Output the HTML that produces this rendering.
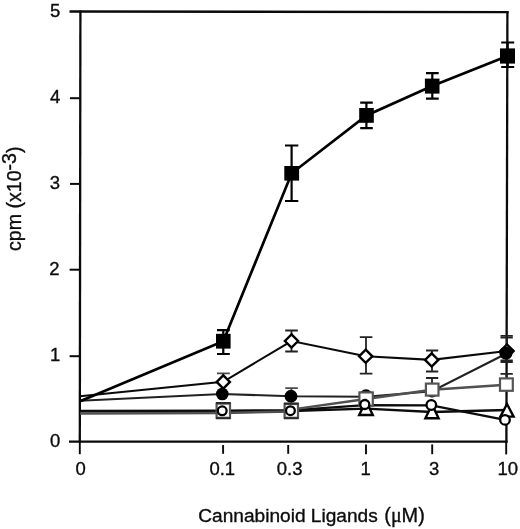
<!DOCTYPE html>
<html lang="en">
<head>
<meta charset="utf-8">
<title>Cannabinoid Ligands dose response</title>
<style>
  html, body { margin: 0; padding: 0; background: #fff; }
  body { width: 520px; height: 529px; overflow: hidden; }
  svg { display: block; }
  text { font-family: "Liberation Sans", sans-serif; font-size: 18.5px; fill: #0c0c0c; stroke: #0c0c0c; stroke-width: 0.35px; }
  .ttl { font-size: 19.4px; }
  .mu { font-family: "Liberation Serif", serif; }
</style>
</head>
<body>
<svg width="520" height="529" viewBox="0 0 520 529">
  <rect x="0" y="0" width="520" height="529" fill="#ffffff"/>

  <!-- axes frame -->
  <g stroke="#0a0a0a" stroke-width="2.3" fill="none" stroke-linecap="butt">
    <line x1="80.4" y1="10.4" x2="79.8" y2="442.8"/>
    <line x1="69.5" y1="11.5" x2="508.5" y2="12.1"/>
    <line x1="507.4" y1="11" x2="506.4" y2="442.8"/>
    <line x1="69" y1="441.7" x2="507.5" y2="441.7"/>
  </g>
  <!-- y ticks -->
  <g stroke="#0a0a0a" stroke-width="2" fill="none">
    <line x1="70" y1="98.2" x2="80" y2="98.2"/>
    <line x1="70" y1="183.9" x2="80" y2="183.9"/>
    <line x1="69.6" y1="269.7" x2="80" y2="269.7"/>
    <line x1="69.6" y1="356.2" x2="80" y2="356.2"/>
  </g>
  <!-- x ticks -->
  <g stroke="#0a0a0a" stroke-width="1.9" fill="none">
    <line x1="79.8" y1="442" x2="79.8" y2="454.2"/>
    <line x1="223.1" y1="445" x2="223.1" y2="453.8"/>
    <line x1="288.2" y1="445" x2="288.2" y2="453.8"/>
    <line x1="366" y1="444.4" x2="366" y2="454.2"/>
    <line x1="432.2" y1="444.4" x2="432.2" y2="454.2"/>
    <line x1="506.2" y1="442" x2="506.2" y2="454.4"/>
  </g>

  <!-- y tick labels -->
  <g text-anchor="end">
    <text x="60.4" y="16.9">5</text>
    <text x="60.4" y="103.4">4</text>
    <text x="60.1" y="188.7">3</text>
    <text x="59.5" y="274.6">2</text>
    <text x="60.2" y="361.1">1</text>
    <text x="60.2" y="446.8">0</text>
  </g>
  <!-- x tick labels -->
  <g text-anchor="middle">
    <text x="80.6" y="474.6">0</text>
    <text x="222.3" y="474.6">0.1</text>
    <text x="289.6" y="474.6">0.3</text>
    <text x="365.6" y="474.6">1</text>
    <text x="434.1" y="474.6">3</text>
    <text x="507.8" y="474.6">10</text>
  </g>

  <!-- axis titles -->
  <text class="ttl" style="font-size:19.1px" x="198.3" y="521.7">Cannabinoid <tspan x="310.8">Ligands</tspan> <tspan x="384.3" style="font-size:19.9px">(<tspan class="mu">μ</tspan>M)</tspan></text>
  <text class="ttl" style="font-size:19.6px" transform="translate(20.5,251) rotate(-90)">cpm (x10<tspan dy="-5">-3</tspan><tspan dy="5">)</tspan></text>

  <!-- ===== series lines ===== -->
  <!-- open triangle -->
  <polyline fill="none" stroke="#0c0c0c" stroke-width="2.3" points="80,411.4 223,411.2 291,411 366,408.6 432,412 507,410"/>
  <!-- open circle -->
  <polyline fill="none" stroke="#0c0c0c" stroke-width="2.3" points="80,410.8 222,410.6 290.5,410.4 365,405.2 431.4,405.4 505,419.9"/>
  <!-- filled circle -->
  <polyline fill="none" stroke="#222" stroke-width="2.1" points="80,400.8 222.3,394 291,396.3 366,396.8 432,391.2 506,353.8"/>
  <!-- grey open square -->
  <polyline fill="none" stroke="#505050" stroke-width="2.5" points="80,413.6 223,412.9 291,411.6 298,408.6 366,399 432,389.8 506.3,384.7"/>
  <!-- open diamond -->
  <polyline fill="none" stroke="#0a0a0a" stroke-width="2.1" points="80,396.2 223.2,381.8 291.5,341 365.7,356.3 431.6,359.9 507,351"/>
  <!-- filled square -->
  <polyline fill="none" stroke="#000" stroke-width="2.7" points="80,401.3 223.3,341.2 291.7,173.3 366.5,115.4 432.1,86.1 507.5,56"/>

  <!-- ===== error bars ===== -->
  <g stroke="#000" stroke-width="2.2" fill="none">
    <!-- filled square -->
    <path d="M223.3 330.1V354M217 330.1H229.8M217 354H229.8"/>
    <path d="M291.6 145.5V201M285 145.5H298.3M285 201H298.3"/>
    <path d="M366.4 102.6V128.2M360.2 102.6H372.8M360.2 128.2H372.8"/>
    <path d="M432.3 73.1V98.7M426 73.1H438.7M426 98.7H438.7"/>
    <path d="M507.6 42.5V67M501.2 42.5H514.2M501.2 67H514.2"/>
  </g>
  <g stroke="#222" stroke-width="1.8" fill="none">
    <!-- diamond -->
    <path d="M291.5 330.5V351.5M285.2 330.5H297.8M285.2 351.5H297.8"/>
    <path d="M366 337.2V373.6M359.8 337.2H372.4M359.8 373.6H372.4"/>
    <path d="M432 350.5V371.5M426 350.5H438.2M426 371.5H438.2"/>
    <path d="M506.8 335.9V362M500.5 335.9H512.8M500.5 362H512.8"/>
    <path d="M500.5 337.6H512.8M500.5 360.3H512.8"/>
    <!-- filled circle -->
    <!-- grey square caps (dark) -->
    <path d="M432 378V384M426 378H438.2"/>
    <path d="M506.8 373.8V379M500.5 373.8H512.8"/>
  </g>

  <g stroke="#4a4a4a" stroke-width="1.8" fill="none">
    <path d="M223.3 373.4V390M217 373.4H229.8"/>
    <path d="M291.4 388.2V404M285.3 388.2H297.8"/>
  </g>

  <!-- ===== markers ===== -->
  <!-- filled circles (behind grey squares) -->
  <g fill="#000">
    <circle cx="222.3" cy="394" r="6.3"/>
    <circle cx="291" cy="396.2" r="6.4"/>
    <circle cx="366" cy="395.8" r="6.5"/>
    <circle cx="432" cy="391" r="6.4"/>
  </g>
  <!-- grey squares -->
  <g fill="#fff" stroke="#555" stroke-width="2.2">
    <rect x="216.6" y="403.6" width="13.4" height="14.2"/>
    <rect x="284.6" y="404" width="13.4" height="13.8"/>
    <rect x="359.4" y="392.4" width="13.4" height="13.4"/>
    <rect x="425.9" y="383.6" width="12.6" height="12"/>
    <rect x="500" y="378.4" width="12.8" height="12.4"/>
  </g>
  <g stroke="#2a2a2a" stroke-width="2" fill="none">
    <path d="M216 403H230.6M216 418.2H230.6"/>
    <path d="M284 403.4H298.6M284 418.3H298.6"/>
  </g>
  <!-- triangles -->
  <g fill="#fff" stroke="#000" stroke-width="2.4" stroke-linejoin="miter">
    <path d="M366 401L372.8 415H359.2Z"/>
    <path d="M432 404.5L438.6 418.2H425.4Z"/>
    <path d="M507 404L513.6 416.6H500.4Z"/>
  </g>
  <!-- open circles -->
  <g fill="#fff" stroke="#000" stroke-width="2.3">
    <circle cx="222.2" cy="410.8" r="4.4"/>
    <circle cx="290.4" cy="410.7" r="4.4"/>
    <circle cx="364.8" cy="404.5" r="4.5"/>
    <circle cx="431.3" cy="405" r="4.8"/>
    <circle cx="505" cy="419.9" r="4.8"/>
  </g>
  <!-- diamonds -->
  <g fill="#fff" stroke="#000" stroke-width="2.4" stroke-linejoin="miter">
    <path d="M223.3 375.3L229.9 381.9L223.3 388.5L216.7 381.9Z"/>
    <path d="M291.5 334.4L298.1 341L291.5 347.6L284.9 341Z"/>
    <path d="M365.7 349.7L372.3 356.3L365.7 362.9L359.1 356.3Z"/>
    <path d="M431.7 353.3L438.3 359.9L431.7 366.5L425.1 359.9Z"/>
    <path d="M507 344.5L513.6 351.1L507 357.7L500.4 351.1Z"/>
  </g>
  <circle cx="505.9" cy="353" r="6.6" fill="#000"/>
  <!-- filled squares -->
  <g fill="#000">
    <rect x="216" y="333.8" width="14.6" height="14.8"/>
    <rect x="284.3" y="166" width="14.8" height="14.6"/>
    <rect x="359.2" y="108" width="14.6" height="14.8"/>
    <rect x="424.9" y="78.6" width="14.6" height="15"/>
    <rect x="500" y="48.4" width="15" height="15.2"/>
  </g>
</svg>
</body>
</html>
